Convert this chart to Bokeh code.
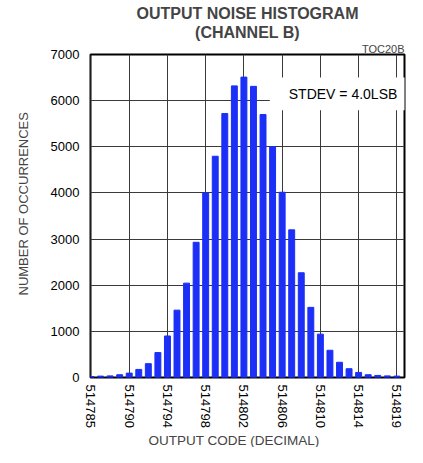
import math
from bokeh.plotting import figure
from bokeh.models import Label, BoxAnnotation, FixedTicker, Range1d, Title
from bokeh.embed import file_html
from bokeh.resources import INLINE

# ---- data ----
codes = list(range(514786, 514819))
counts = [20, 30, 35, 60, 95, 175, 300, 540, 900, 1460,
          2045, 2930, 4000, 4795, 5720, 6320, 6510, 6310, 5700, 5000,
          4015, 3200, 2270, 1520, 940, 590, 330, 190, 110, 60,
          45, 35, 30]
x_tick_codes = [514786, 514790, 514794, 514798, 514802, 514806, 514810, 514814, 514818]
x_tick_labels = ["514785", "514790", "514794", "514798", "514802",
                 "514806", "514810", "514814", "514819"]
y_ticks = [0, 1000, 2000, 3000, 4000, 5000, 6000, 7000]

FONT = "Liberation Sans"
BLUE = "#1b2ff7"

x0 = codes[0]
p = figure(width=407, height=447, output_backend="svg", toolbar_location=None,
           x_range=Range1d(x0 - 0.05, x0 + 32.8), y_range=Range1d(0, 7000),
           min_border_left=87, min_border_right=3, min_border_top=54, min_border_bottom=70)

p.outline_line_color = "black"
p.outline_line_width = 2
p.background_fill_color = "white"
p.border_fill_color = "white"

p.vbar(x=codes, top=counts, width=0.62, bottom=0, color=BLUE)

# grid
p.xgrid.ticker = FixedTicker(ticks=x_tick_codes)
p.ygrid.ticker = FixedTicker(ticks=y_ticks)
for g in (p.xgrid, p.ygrid):
    g.grid_line_color = "#3a3a3a"
    g.grid_line_width = 1

# axes
p.xaxis.ticker = FixedTicker(ticks=x_tick_codes)
p.xaxis.major_label_overrides = {c: l for c, l in zip(x_tick_codes, x_tick_labels)}
p.xaxis.major_label_orientation = -math.pi / 2
p.yaxis.ticker = FixedTicker(ticks=y_ticks)
for ax in (p.xaxis[0], p.yaxis[0]):
    ax.axis_line_color = None
    ax.major_tick_line_color = None
    ax.minor_tick_line_color = None
    ax.major_tick_out = 0
    ax.major_tick_in = 0
    ax.major_label_text_font = FONT
    ax.major_label_text_font_size = "13px"
    ax.major_label_text_color = "black"
p.xaxis[0].major_label_standoff = 7
p.yaxis[0].major_label_standoff = 11

# STDEV box
p.add_layout(BoxAnnotation(left=x0 + 18.71, right=x0 + 33.0, bottom=5790, top=6500,
                           fill_color="white", fill_alpha=1.0, line_color=None))
p.add_layout(Label(x=x0 + 26.37, y=6140, text="STDEV = 4.0LSB", text_align="center",
                   text_baseline="middle", text_font=FONT, text_font_size="14px",
                   text_color="black"))

# titles above (first added = closest to the frame)
p.add_layout(Title(text="TOC20B", align="right", text_font=FONT, text_font_size="11px",
                   text_font_style="normal", standoff=0, offset=0), "above")
p.add_layout(Title(text="(CHANNEL B)", align="center", text_font=FONT, text_font_size="16px",
                   text_font_style="bold", standoff=0), "above")
p.add_layout(Title(text="OUTPUT NOISE HISTOGRAM", align="center", text_font=FONT,
                   text_font_size="16px", text_font_style="bold", standoff=0), "above")

# axis titles
p.add_layout(Title(text="NUMBER OF OCCURRENCES", align="left", offset=82, text_font=FONT,
                   text_font_size="13px", text_font_style="normal", standoff=30,
                   vertical_align="top"), "left")
p.add_layout(Title(text="OUTPUT CODE (DECIMAL)", align="left", offset=58, text_font=FONT,
                   text_font_size="13.5px", text_font_style="normal", standoff=0), "below")

open("out.html", "w").write(file_html(p, INLINE))
